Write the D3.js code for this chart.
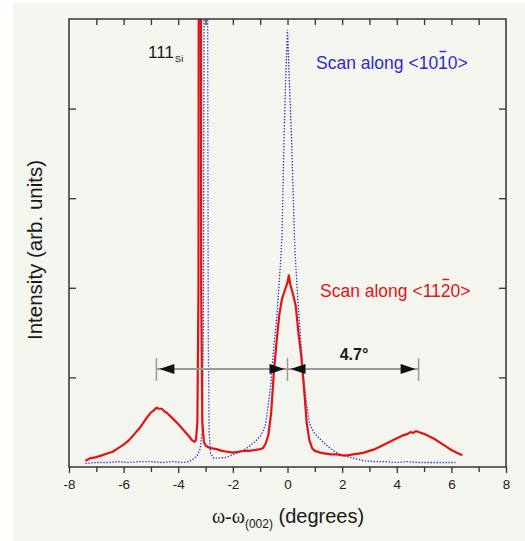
<!DOCTYPE html>
<html>
<head>
<meta charset="utf-8">
<script src="https://cdn.jsdelivr.net/npm/d3@7"></script>
<style>
  body { margin: 0; background: #ffffff; }
  text { font-family: "Liberation Sans", Arial, sans-serif; }
</style>
</head>
<body>
<script>
"use strict";
// red scan, along <11-20>
const redX = [-7.4,-7.2,-7.0,-6.8,-6.6,-6.4,-6.2,-6.0,-5.8,-5.6,-5.4,-5.2,-5.1,-5.0,-4.9,-4.8,-4.7,-4.6,-4.5,-4.4,-4.3,-4.2,-4.0,-3.8,-3.6,-3.5,-3.4,-3.35,-3.3,-3.26,-3.23,-3.19,-3.16,-3.12,-3.06,-3.0,-2.9,-2.8,-2.6,-2.4,-2.2,-2.0,-1.8,-1.6,-1.4,-1.2,-1.0,-0.9,-0.8,-0.7,-0.6,-0.5,-0.4,-0.3,-0.2,-0.1,0.0,0.05,0.1,0.2,0.3,0.4,0.5,0.6,0.7,0.8,0.9,1.0,1.2,1.4,1.6,1.8,2.0,2.2,2.4,2.6,2.8,3.0,3.2,3.4,3.6,3.8,4.0,4.2,4.4,4.5,4.6,4.7,4.8,4.9,5.0,5.2,5.4,5.6,5.8,6.0,6.2,6.4]
const redY = [0.07,0.10,0.11,0.13,0.15,0.17,0.21,0.25,0.30,0.37,0.44,0.53,0.57,0.61,0.63,0.66,0.65,0.65,0.62,0.60,0.57,0.54,0.48,0.41,0.34,0.30,0.28,0.30,0.5,2.0,12,12,2.0,0.5,0.28,0.24,0.22,0.21,0.20,0.18,0.17,0.16,0.17,0.18,0.18,0.19,0.20,0.21,0.26,0.36,0.6,1.05,1.4,1.7,1.88,1.97,2.06,2.14,2.04,1.93,1.8,1.5,1.25,0.9,0.5,0.3,0.21,0.18,0.16,0.15,0.14,0.14,0.13,0.13,0.14,0.15,0.16,0.18,0.20,0.23,0.26,0.29,0.32,0.35,0.37,0.39,0.38,0.40,0.39,0.38,0.37,0.34,0.31,0.27,0.23,0.19,0.16,0.13]
// blue scan, along <10-10>
const blueX = [-7.4,-7.0,-6.6,-6.2,-5.8,-5.4,-5.0,-4.6,-4.2,-3.8,-3.6,-3.45,-3.3,-3.2,-3.12,-3.08,-3.05,-3.02,-2.95,-2.93,-2.9,-2.87,-2.82,-2.7,-2.5,-2.2,-2.0,-1.8,-1.6,-1.4,-1.2,-1.0,-0.9,-0.8,-0.7,-0.6,-0.5,-0.4,-0.35,-0.25,-0.2,-0.13,-0.07,0.0,0.07,0.15,0.27,0.38,0.5,0.6,0.7,0.8,0.9,1.0,1.2,1.4,1.6,1.8,2.0,2.4,2.8,3.2,3.6,4.0,4.4,4.8,5.2,5.6,6.0,6.15]
const blueY = [0.04,0.05,0.05,0.06,0.05,0.06,0.06,0.05,0.06,0.05,0.06,0.09,0.13,0.2,0.4,1.5,6,12,12,6,1.5,0.4,0.15,0.1,0.1,0.11,0.14,0.16,0.19,0.23,0.28,0.34,0.4,0.48,0.7,0.95,1.35,1.65,1.86,2.3,2.6,3.65,4.3,4.88,4.3,3.65,2.42,1.86,1.35,0.95,0.7,0.5,0.42,0.37,0.31,0.25,0.2,0.16,0.13,0.1,0.07,0.06,0.06,0.05,0.06,0.05,0.05,0.05,0.05,0.05]
const xMajor = [-8,-6,-4,-2,0,2,4,6,8]
const xMinor = [-7,-5,-3,-1,1,3,5,7]
const xTop = [-7,-6,-5,-4,-3,-2,-1,0,1,2,3,4,5,6,7]
const yTicks = [1,2,3,4]
const spacing = [-4.8, 0, 4.8]

const W = 525, H = 541
const m = {left: 69, right: 506, top: 19, bottom: 467}

const svg = d3.select("body").append("svg")
    .attr("width", W).attr("height", H)

svg.append("rect")
    .attr("x", 13).attr("y", 3).attr("width", W - 13).attr("height", H - 3)
    .attr("fill", "#f4f5ef")

const x = d3.scaleLinear().domain([-8, 8]).range([m.left, m.right])
const y = d3.scaleLinear().domain([0, 5]).range([m.bottom, m.top])

svg.append("clipPath").attr("id", "clip")
  .append("rect")
    .attr("x", m.left).attr("y", m.top)
    .attr("width", m.right - m.left).attr("height", m.bottom - m.top)

const line = d3.line().x(d => x(d[0])).y(d => y(d[1]))

// blue dotted
svg.append("path")
    .datum(d3.zip(blueX, blueY))
    .attr("clip-path", "url(#clip)")
    .attr("fill", "none")
    .attr("stroke", "#3030c8")
    .attr("stroke-width", 1.3)
    .attr("stroke-dasharray", "1.4,1.6")
    .attr("d", line)

// red solid
svg.append("path")
    .datum(d3.zip(redX, redY))
    .attr("clip-path", "url(#clip)")
    .attr("fill", "none")
    .attr("stroke", "#e01414")
    .attr("stroke-width", 2.2)
    .attr("stroke-linejoin", "round")
    .attr("d", line)

// axes
const axisColor = "#333"
function styleAxis(g) {
    g.select(".domain").remove()
    g.selectAll("line").attr("stroke", axisColor).attr("stroke-width", 1.3)
    g.selectAll("text").attr("fill", "#222").style("font-size", "13.5px")
}
svg.append("g")
    .attr("transform", `translate(0,${m.bottom})`)
    .call(d3.axisBottom(x).tickValues(xMajor).tickSize(6).tickPadding(6).tickFormat(d => String(d)))
    .call(styleAxis)
svg.append("g")
    .attr("transform", `translate(0,${m.bottom})`)
    .call(d3.axisBottom(x).tickValues(xMinor).tickSize(5).tickFormat(""))
    .call(styleAxis)
svg.append("g")
    .attr("transform", `translate(0,${m.top})`)
    .call(d3.axisTop(x).tickValues(xTop).tickSize(-6).tickFormat(""))
    .call(styleAxis)
svg.append("g")
    .attr("transform", `translate(${m.left},0)`)
    .call(d3.axisLeft(y).tickValues(yTicks).tickSize(-7).tickFormat(""))
    .call(styleAxis)
svg.append("g")
    .attr("transform", `translate(${m.right},0)`)
    .call(d3.axisRight(y).tickValues(yTicks).tickSize(-7).tickFormat(""))
    .call(styleAxis)

svg.append("rect")
    .attr("x", m.left).attr("y", m.top)
    .attr("width", m.right - m.left).attr("height", m.bottom - m.top)
    .attr("fill", "none").attr("stroke", axisColor).attr("stroke-width", 1.5)

// axis titles
const xt = svg.append("text")
    .attr("x", 288).attr("y", 523)
    .attr("text-anchor", "middle")
    .attr("fill", "#1a1a1a")
    .style("font-size", "20px")
xt.append("tspan").style("font-family", "Liberation Serif").text("ω-ω")
xt.append("tspan").attr("dy", 5).style("font-size", "12px").text("(002)")
xt.append("tspan").attr("dy", -5).text(" (degrees)")

svg.append("text")
    .attr("transform", "rotate(-90)")
    .attr("x", -250).attr("y", 42)
    .attr("text-anchor", "middle")
    .attr("fill", "#1a1a1a")
    .style("font-size", "20.5px")
    .text("Intensity (arb. units)")

// 111Si label
const si = svg.append("text")
    .attr("x", 148).attr("y", 58)
    .attr("fill", "#1a1a1a")
    .style("font-size", "17px")
si.append("tspan").text("111")
si.append("tspan").attr("dy", 4).attr("dx", 1).style("font-size", "9.5px").text("Si")

// scan labels with overbar
function scanLabel(txt, barIdx, px, py, color) {
    const fs = 17.5
    const t = svg.append("text")
        .attr("x", px).attr("y", py)
        .attr("fill", color)
        .style("font-size", fs + "px")
        .text(txt)
    const node = t.node()
    const s = node.getStartPositionOfChar(barIdx).x
    const e = node.getEndPositionOfChar(barIdx).x
    svg.append("line")
        .attr("x1", s + 1.5).attr("x2", e - 1.5)
        .attr("y1", py - fs).attr("y2", py - fs)
        .attr("stroke", color).attr("stroke-width", 1.4)
}
scanLabel("Scan along <1010>", 14, 316, 69, "#2c2cd0")
scanLabel("Scan along <1120>", 14, 320, 297, "#e01414")

// 4.7 degree spacing marker
const ay = 369
const grey = "#9a9a9a"
svg.selectAll(".bar")
    .data(spacing)
    .enter().append("line")
    .attr("x1", d => x(d)).attr("x2", d => x(d))
    .attr("y1", ay - 11).attr("y2", ay + 12)
    .attr("stroke", grey).attr("stroke-width", 1.5)
svg.append("line")
    .attr("x1", x(spacing[0])).attr("x2", x(spacing[2]))
    .attr("y1", ay).attr("y2", ay)
    .attr("stroke", grey).attr("stroke-width", 2)

function arrowHead(tip, dir) {
    const len = 15, hw = 5
    svg.append("path")
        .attr("d", `M${tip},${ay} L${tip + dir * len},${ay - hw} L${tip + dir * len},${ay + hw} Z`)
        .attr("fill", "#111")
}
arrowHead(x(spacing[0]) + 3, 1)
arrowHead(x(spacing[1]) - 3, -1)
arrowHead(x(spacing[1]) + 3, 1)
arrowHead(x(spacing[2]) - 3, -1)

svg.append("text")
    .attr("x", 354).attr("y", 360)
    .attr("text-anchor", "middle")
    .attr("fill", "#1a1a1a")
    .style("font-size", "16px")
    .style("font-weight", "bold")
    .text("4.7°")
</script>
</body>
</html>
